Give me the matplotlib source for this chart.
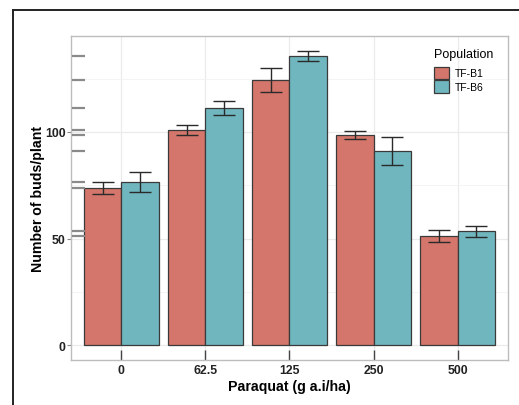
import matplotlib.pyplot as plt
from matplotlib.lines import Line2D
import numpy as np

doses = ["0", "62.5", "125", "250", "500"]
populations = ["TF-B1", "TF-B6"]
b1_mean = [73.7, 101.0, 124.4, 98.6, 51.2]
b1_err = [3.0, 2.3, 5.6, 1.9, 2.8]
b6_mean = [76.5, 111.3, 135.7, 91.0, 53.5]
b6_err = [4.5, 3.3, 2.3, 6.6, 2.6]

colors = {"TF-B1": "#D4766B", "TF-B6": "#70B6BE"}
plt.rcParams["font.family"] = ["Liberation Sans", "DejaVu Sans"]

fig = plt.figure(figsize=(5.19, 4.06), dpi=100)
ax = fig.add_axes([0.1368, 0.1108, 0.842, 0.798])

x = np.arange(len(doses))
w = 0.45
for i, (pop, mean, err) in enumerate(zip(populations, [b1_mean, b6_mean], [b1_err, b6_err])):
    pos = x - w / 2 + i * w
    ax.bar(pos, mean, width=w, color=colors[pop], edgecolor="#3a3a3a",
           linewidth=0.9, label=pop, zorder=2)
    ax.errorbar(pos, mean, yerr=err, fmt="none", ecolor="#2a2a2a",
                elinewidth=1.0, capsize=8, capthick=1.0, zorder=3)

# grey marks along the left edge at each bar height (scan artefact)
ax.hlines(b1_mean + b6_mean, 0.003, 0.032, transform=ax.get_yaxis_transform(),
          color="#8a8a8a", linewidth=1.6, zorder=4)

ax.set_xlim(-0.6, 4.6)
ax.set_ylim(-7, 145)
ax.set_xticks(x)
ax.set_xticklabels(doses, fontweight="bold", fontsize=8.8, color="#222222")
ax.set_yticks([0, 50, 100])
ax.set_yticklabels(["0", "50", "100"], fontweight="bold", fontsize=8.8, color="#222222")
ax.set_yticks([25, 75, 125], minor=True)
ax.tick_params(axis="x", direction="in", length=7, width=1.0, color="#444444", pad=3)
ax.tick_params(axis="y", which="major", direction="out", length=3, width=0.8,
               color="#888888", pad=1)
ax.tick_params(axis="y", which="minor", length=0)

ax.grid(True, which="major", color="#EBEBEB", linewidth=0.9, zorder=0)
ax.grid(True, which="minor", axis="y", color="#F3F3F3", linewidth=0.6, zorder=0)
ax.set_axisbelow(True)
for s in ax.spines.values():
    s.set_color("#BDBDBD")
    s.set_linewidth(1.0)

ax.set_xlabel("Paraquat (g a.i/ha)", fontweight="bold", fontsize=10.2, labelpad=2)
ax.set_ylabel("Number of buds/plant", fontweight="bold", fontsize=10.2, labelpad=0)

leg = ax.legend(title="Population", loc="upper left", bbox_to_anchor=(0.818, 0.98),
                frameon=False, fontsize=7.5, title_fontsize=9, handlelength=1.45,
                handleheight=1.5, labelspacing=0.1, handletextpad=0.6,
                borderpad=0, alignment="left")
leg._legend_box.sep = 5
for h in leg.legend_handles:
    h.set_edgecolor("#3a3a3a")

# frame around the figure (top and left visible)
fig.add_artist(Line2D([0.025, 0.025], [0.0, 0.973], color="#222222", linewidth=1.4))
fig.add_artist(Line2D([0.025, 1.0], [0.973, 0.973], color="#222222", linewidth=1.4))

fig.savefig("out.png", dpi=100)
plt.close(fig)
